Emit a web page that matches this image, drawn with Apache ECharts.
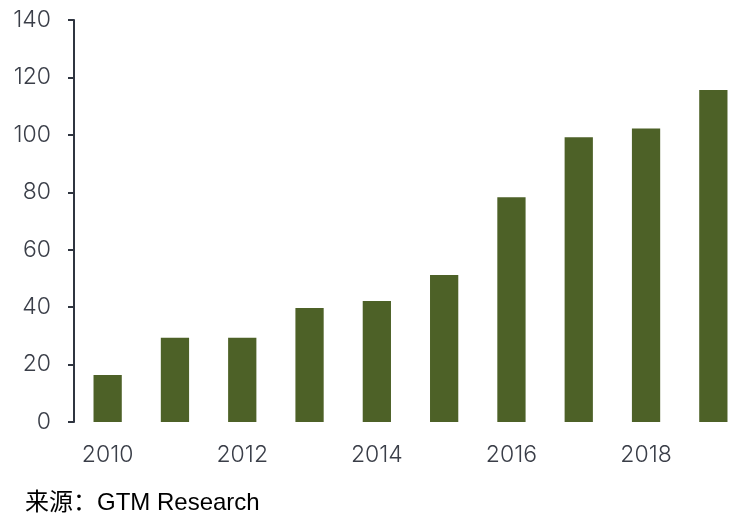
<!DOCTYPE html>
<html>
<head>
<meta charset="utf-8">
<script src="https://cdn.jsdelivr.net/npm/echarts@6/dist/echarts.min.js"></script>
<style>
  html, body { margin: 0; padding: 0; background: #fff; }
  #chart { width: 730px; height: 515px; }
</style>
</head>
<body>
<div id="chart"></div>
<script>
var years = ['2010', '2011', '2012', '2013', '2014', '2015', '2016', '2017', '2018', '2019'];
var values = [16.4, 29.3, 29.3, 39.7, 42.1, 51.2, 78.3, 99.2, 102.2, 115.6];
var yTicks = { min: 0, max: 140, interval: 20 };
var sourceText = '来源：GTM Research';

var chart = echarts.init(document.getElementById('chart'));
chart.setOption({
    animation: false,
    // plot runs past the right edge, the last bar is cut like in the original
    grid: { left: 74, width: 673, top: 20, bottom: 93, outerBoundsMode: 'none', containLabel: false },
    xAxis: {
        type: 'category',
        data: years,
        axisLine: { show: false },
        axisTick: { show: false },
        axisLabel: {
            interval: 1,
            margin: 22,
            fontSize: 23,
            color: '#3a3e48',
            fontFamily: 'Inter, sans-serif',
            fontWeight: 300
        }
    },
    yAxis: {
        type: 'value',
        min: yTicks.min,
        max: yTicks.max,
        interval: yTicks.interval,
        splitLine: { show: false },
        axisLine: { show: true, lineStyle: { color: '#2f3540', width: 2 } },
        axisTick: { show: true, length: 6, lineStyle: { color: '#2f3540', width: 2 } },
        axisLabel: {
            margin: 23,
            fontSize: 23,
            color: '#3a3e48',
            fontFamily: 'Inter, sans-serif',
            fontWeight: 300
        }
    },
    series: [{
        type: 'bar',
        data: values,
        barWidth: '42%',
        itemStyle: { color: '#4d6127' }
    }],
    graphic: [{
        type: 'text',
        left: 25,
        top: 491,
        style: {
            text: sourceText,
            fontSize: 24,
            fill: '#000',
            fontFamily: '"Liberation Sans", "Noto Sans CJK SC", sans-serif'
        }
    }]
});
</script>
</body>
</html>
